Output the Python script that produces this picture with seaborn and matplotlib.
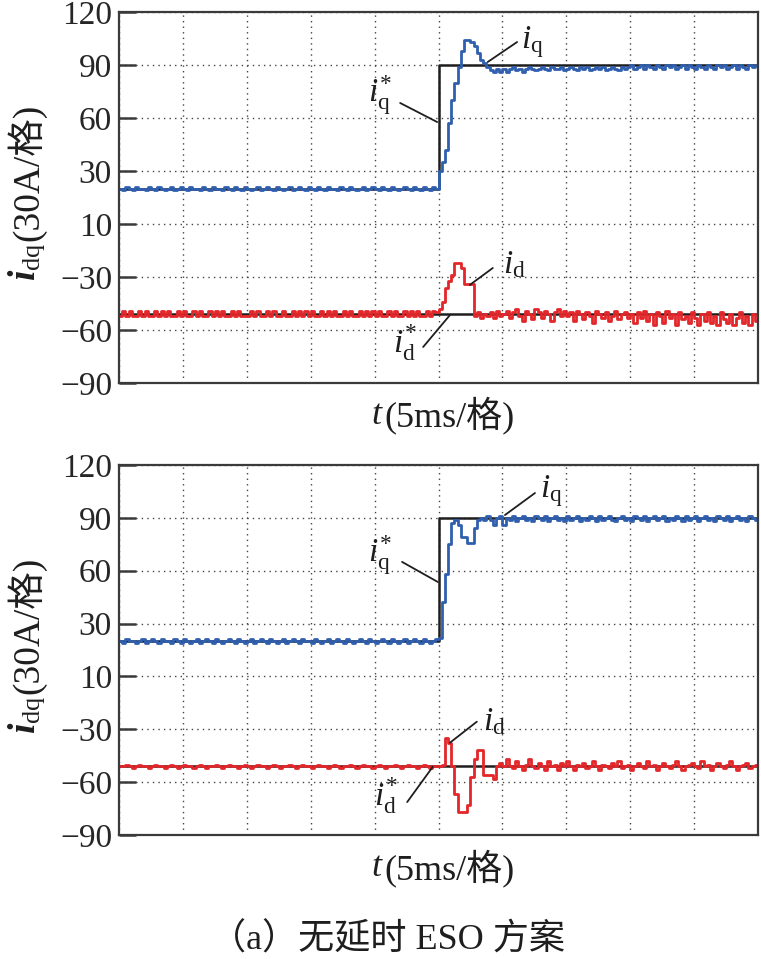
import numpy as np
import pandas as pd
import matplotlib
matplotlib.use("Agg")
import matplotlib.pyplot as plt
import seaborn as sns

# ---------------- data (time grid: 0..10 div, step 0.05 div) ----------------
t_step = 0.05
y_ticks = [120, 90, 60, 30, 0, -30, -60, -90]
y_tick_labels = ["120", "90", "60", "30", "10", "\u221230", "\u221260", "\u221290"]

# top panel
top_iq = (
    [20,19,21,20,19,21,20,20,19,21,20,19,21,20,19,20,21,19,20,21]
    + [20,19,21,20,20,19,21,20,19,21,20,20,19,21,20,19,21,20,19,21]
    + [20,19,20,21,19,20,21,20,19,21,20,19,20,21,19,20,21,20,19,21]
    + [20,19,21,20,19,21,20,20,19,21,20,19,21,20,19,20,21,19,20,21]
    + [20,19,21,20,19,21,20,19,20,21,20,19,21,20,19,21,20,19,21,20]
    + [30,35,42,57,70,80,89,98,104,104,103,101,97,93,91,89,87,86,88,86]
    + [88,86,88,89,87,88,86,88,89,88,87,88,89,88,87,89,88,88,89,87]
    + [88,89,88,87,89,88,89,87,88,89,88,89,87,88,89,88,87,89,88,89]
    + [90,88,89,90,88,90,89,88,90,89,88,90,89,90,88,89,90,88,90,89]
    + [88,90,89,88,90,89,88,90,89,90,88,89,90,88,90,89,88,90,89,90]
)
top_iq_ref = [20] * 100 + [90] * 100
top_id = (
    [-52,-49,-52,-49,-52,-52,-49,-52,-49,-52,-52,-49,-52,-49,-52,-49,-52,-52,-49,-52]
    + [-49,-52,-52,-49,-52,-49,-52,-52,-49,-52,-49,-52,-49,-52,-52,-49,-52,-49,-52,-52]
    + [-52,-49,-52,-49,-52,-52,-49,-52,-49,-52,-52,-49,-52,-52,-49,-52,-49,-52,-49,-52]
    + [-49,-52,-52,-49,-52,-49,-52,-49,-52,-52,-49,-52,-49,-52,-52,-49,-52,-49,-52,-49]
    + [-52,-49,-52,-52,-49,-52,-49,-52,-52,-49,-52,-49,-52,-49,-52,-52,-49,-52,-49,-50]
    + [-48,-44,-36,-32,-29,-22,-22,-25,-34,-34,-34,-52,-50,-53,-51,-52,-50,-53,-49,-52]
    + [-51,-49,-53,-50,-48,-52,-55,-49,-51,-54,-48,-50,-53,-49,-51,-55,-50,-48,-52,-49]
    + [-52,-50,-55,-49,-51,-54,-50,-52,-56,-49,-51,-53,-50,-55,-52,-49,-54,-51,-50,-53]
    + [-51,-56,-50,-53,-49,-55,-51,-57,-50,-52,-56,-49,-53,-51,-57,-50,-54,-52,-56,-50]
    + [-53,-57,-51,-55,-50,-56,-52,-57,-50,-54,-56,-51,-57,-53,-50,-56,-52,-57,-51,-55]
)
top_id_ref = [-51] * 200

# bottom panel
bot_iq = (
    [20,19,21,20,20,19,20,21,19,20,21,20,19,21,20,20,19,21,20,19]
    + [21,20,19,20,21,19,20,21,20,19,21,20,19,20,21,20,19,21,20,19]
    + [20,21,19,20,21,20,19,21,20,19,20,21,19,20,21,20,19,21,20,20]
    + [19,21,20,19,20,21,19,20,21,20,19,21,20,19,20,21,20,19,21,20]
    + [19,20,21,20,19,21,20,19,20,21,19,20,21,20,19,21,20,19,20,21]
    + [22,42,58,75,87,89,86,79,79,76,76,84,89,90,89,91,89,86,90,91]
    + [86,90,89,91,88,90,91,89,90,88,91,90,89,91,88,90,91,89,90,88]
    + [91,89,90,91,88,90,89,91,90,88,91,89,90,91,89,88,90,91,89,90]
    + [88,91,90,89,91,88,90,91,89,90,91,88,90,89,91,90,88,91,89,90]
    + [91,88,90,91,89,90,88,91,90,89,91,88,90,91,89,90,88,91,90,89]
)
bot_iq_ref = [20] * 100 + [90] * 100
bot_id = (
    [-51,-51,-50,-51,-52,-51,-50,-51,-51,-52,-51,-50,-51,-51,-52,-51,-50,-51,-52,-51]
    + [-50,-51,-51,-52,-51,-50,-51,-52,-51,-51,-50,-51,-52,-51,-50,-51,-51,-52,-51,-50]
    + [-51,-52,-51,-50,-51,-51,-52,-51,-50,-51,-52,-51,-51,-50,-51,-52,-51,-50,-51,-51]
    + [-52,-51,-50,-51,-51,-52,-51,-50,-51,-52,-51,-51,-50,-51,-52,-51,-50,-51,-51,-52]
    + [-51,-50,-51,-52,-51,-51,-50,-51,-52,-51,-50,-51,-51,-52,-51,-50,-51,-52,-51,-51]
    + [-51,-50,-35,-38,-51,-67,-77,-77,-77,-73,-57,-47,-42,-42,-56,-56,-56,-58,-51,-49]
    + [-51,-47,-51,-52,-48,-51,-53,-50,-47,-51,-52,-49,-51,-53,-48,-51,-50,-53,-49,-51]
    + [-48,-51,-53,-50,-51,-49,-52,-51,-48,-51,-53,-50,-51,-52,-49,-51,-48,-52,-51,-50]
    + [-53,-51,-49,-51,-52,-48,-51,-50,-53,-51,-49,-51,-52,-50,-48,-51,-53,-51,-50,-49]
    + [-51,-52,-48,-51,-50,-53,-51,-49,-51,-52,-50,-48,-51,-53,-51,-50,-49,-52,-51,-50]
)
bot_id_ref = [-51] * 200

# ---------------- style ----------------
sns.set_theme(style="white")
plt.rcParams["font.family"] = ["Liberation Serif", "Noto Sans CJK SC", "DejaVu Sans"]
plt.rcParams["mathtext.fontset"] = "custom"
plt.rcParams["mathtext.rm"] = "Liberation Serif"
plt.rcParams["mathtext.it"] = "Liberation Serif:italic"
plt.rcParams["mathtext.bf"] = "Liberation Serif:bold:italic"

C_BLUE = "#2f5fae"
C_RED = "#e3262a"
C_BLACK = "#1e1e1e"
C_SPINE = "#3a3a3a"
FONT = ["Liberation Serif", "Noto Sans CJK SC", "DejaVu Sans"]

W, H = 761, 959
fig = plt.figure(figsize=(W / 100, H / 100), dpi=100)


def px_ax(left, top, right, bottom):
    return fig.add_axes([left / W, 1 - bottom / H, (right - left) / W, (bottom - top) / H])


def make_frame(iq, iq_ref, idd, id_ref):
    n = len(iq)
    t = np.round(np.arange(n + 1) * t_step, 4)
    rows = []
    for name, vals in (("iq_ref", iq_ref), ("id_ref", id_ref), ("id", idd), ("iq", iq)):
        v = list(vals) + [vals[-1]]
        rows.append(pd.DataFrame({"t": t, "val": v, "sig": name}))
    return pd.concat(rows, ignore_index=True)


def draw_panel(ax, df):
    palette = {"iq_ref": C_BLACK, "id_ref": C_BLACK, "id": C_RED, "iq": C_BLUE}
    widths = {"iq_ref": 1.8, "id_ref": 1.8, "id": 2.0, "iq": 2.0}
    for sig in ["iq_ref", "id_ref", "id", "iq"]:
        sub = df[df["sig"] == sig]
        sns.lineplot(data=sub, x="t", y="val", ax=ax, color=palette[sig],
                     drawstyle="steps-post", estimator=None, linewidth=widths[sig],
                     legend=False)
    ax.set_xlim(0, 10)
    ax.set_ylim(-90, 120)
    ax.set_xticks(np.arange(0, 11, 1))
    ax.set_xticklabels([])
    ax.set_yticks(y_ticks)
    ax.set_yticklabels(y_tick_labels, fontsize=24, family=FONT)
    ax.tick_params(axis="x", length=0)
    ax.tick_params(axis="y", direction="in", length=12, width=1.8, color=C_SPINE,
                   pad=5, left=True, right=False)
    ax.grid(True, linestyle=(0, (1, 3)), color="#444444", linewidth=1.0)
    for s in ax.spines.values():
        s.set_color(C_SPINE)
        s.set_linewidth(1.6)
    ax.set_xlabel("")
    ax.set_ylabel("")


def label(ax, txt, xy_text, line_from, line_to, size=24):
    ax.annotate("", xy=line_to, xytext=line_from,
                arrowprops=dict(arrowstyle="-", color=C_BLACK, lw=1.3,
                                shrinkA=0, shrinkB=0))
    ax.text(xy_text[0], xy_text[1], txt, fontsize=size, ha="center", va="center",
            color=C_BLACK)


ax1 = px_ax(119, 12, 758, 383)
draw_panel(ax1, make_frame(top_iq, top_iq_ref, top_id, top_id_ref))
label(ax1, r"$i_{\mathrm{q}}^{*}$", (4.08, 73), (4.40, 68.5), (4.98, 57.7))
label(ax1, r"$i_{\mathrm{q}}$", (6.47, 103), (6.23, 103), (5.77, 91.7))
label(ax1, r"$i_{\mathrm{d}}$", (6.18, -23), (5.85, -24.9), (5.49, -34.5))
label(ax1, r"$i_{\mathrm{d}}^{*}$", (4.48, -67), (4.76, -69.6), (5.18, -51.5))

ax2 = px_ax(119, 465, 758, 835)
draw_panel(ax2, make_frame(bot_iq, bot_iq_ref, bot_id, bot_id_ref))
label(ax2, r"$i_{\mathrm{q}}^{*}$", (4.08, 69), (4.43, 65.0), (4.99, 53.6))
label(ax2, r"$i_{\mathrm{q}}$", (6.77, 105), (6.51, 104.1), (6.04, 91.6))
label(ax2, r"$i_{\mathrm{d}}$", (5.88, -26), (5.60, -25.7), (5.18, -37.6))
label(ax2, r"$i_{\mathrm{d}}^{*}$", (4.18, -68), (4.51, -71.3), (4.91, -51.3))

# axis labels
for dy in (0, 453):
    fig.text(27 / W, 1 - (241 + dy) / H, "(30A/格)", rotation=90, ha="center",
             va="bottom", fontsize=27, family=FONT, color=C_BLACK)
    fig.text(27 / W, 1 - (242 + dy) / H, r"$\mathbf{i}_{\mathrm{dq}}$", rotation=90,
             ha="center", va="top", fontsize=27, color=C_BLACK)
    fig.text(384 / W, 1 - (415 + dy) / H, r"$t$", ha="right", va="center",
             fontsize=26, color=C_BLACK)
    fig.text(384 / W, 1 - (415 + dy) / H, "(5ms/格)", ha="left", va="center",
             fontsize=26, family=FONT, color=C_BLACK)

fig.text(388 / W, 1 - 940 / H, "（a）无延时 ESO 方案", ha="center", va="center",
         fontsize=26, family=FONT, color=C_BLACK)

fig.savefig("out.png", dpi=100, facecolor="white")
